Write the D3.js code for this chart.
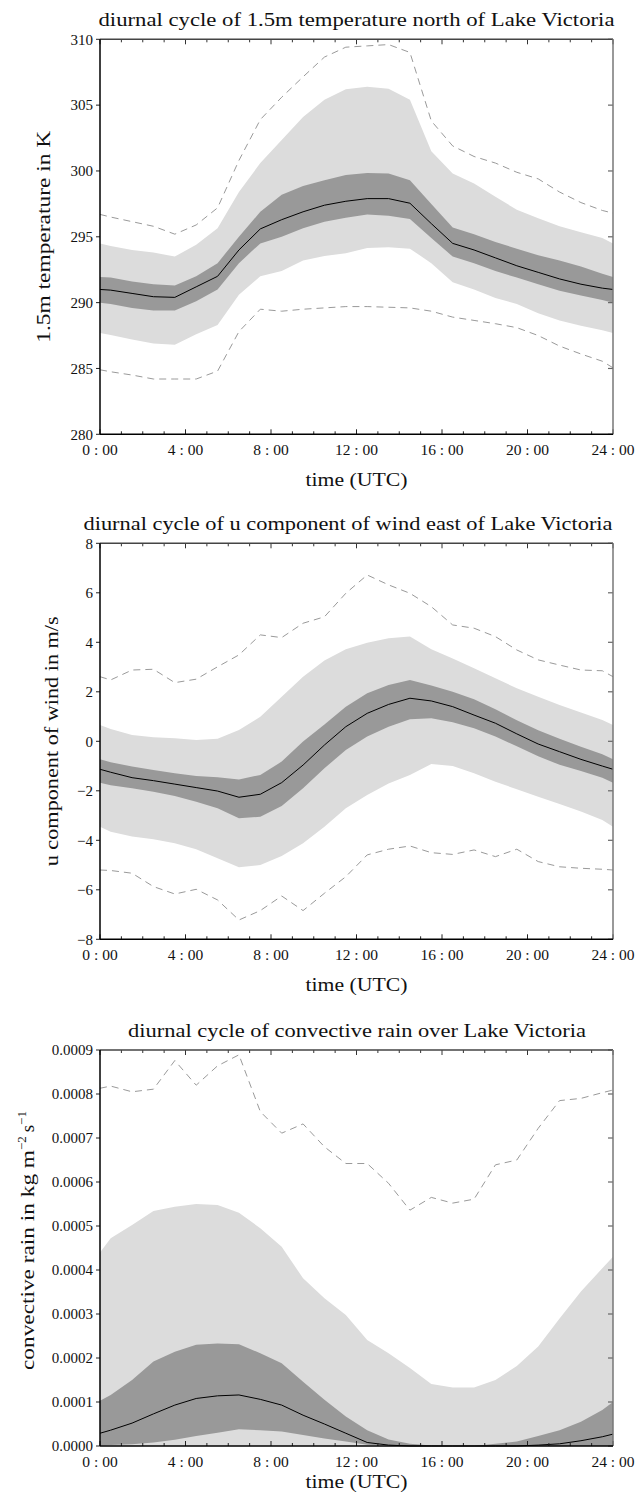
<!DOCTYPE html>
<html><head><meta charset="utf-8">
<script src="https://cdn.jsdelivr.net/npm/d3@7"></script>
<style>
html,body{margin:0;padding:0;background:#fff;}
svg{display:block;}
text{font-family:"Liberation Serif","DejaVu Serif",serif;fill:#111;}
</style></head>
<body><svg id="c" width="638" height="1501"></svg>
<script>
// ---- data ----
const hours = [0,0.5,1.5,2.5,3.5,4.5,5.5,6.5,7.5,8.5,9.5,10.5,11.5,12.5,13.5,14.5,15.5,16.5,17.5,18.5,19.5,20.5,21.5,22.5,23.5,24];
const xTickHours = [0,4,8,12,16,20,24];
const xTickLabels = ["0 : 00","4 : 00","8 : 00","12 : 00","16 : 00","20 : 00","24 : 00"];

// panel 1: 1.5m temperature (K)
const tMin  = [284.9,284.75,284.5,284.2,284.2,284.2,284.8,287.8,289.5,289.35,289.5,289.6,289.7,289.7,289.65,289.6,289.35,288.9,288.65,288.4,288.1,287.5,286.7,286.1,285.55,285.05];
const tP10  = [287.7,287.55,287.2,286.9,286.8,287.6,288.3,290.6,292.0,292.4,293.2,293.55,293.75,294.15,294.2,294.1,293.0,291.55,291.0,290.35,289.9,289.2,288.65,288.25,287.9,287.7];
const tP25  = [290.0,289.9,289.6,289.4,289.4,290.1,291.0,293.0,294.5,295.0,295.65,296.15,296.45,296.7,296.6,296.35,294.9,293.5,293.0,292.4,291.9,291.4,290.9,290.55,290.2,290.0];
const tMed  = [291.0,290.95,290.7,290.45,290.4,291.2,292.0,294.0,295.6,296.3,296.9,297.4,297.7,297.9,297.9,297.55,296.0,294.5,294.0,293.4,292.8,292.3,291.8,291.4,291.1,291.0];
const tP75  = [291.95,291.9,291.6,291.4,291.3,292.0,293.0,295.0,296.9,298.2,298.85,299.3,299.7,299.85,299.8,299.3,297.5,295.7,295.2,294.6,294.1,293.6,293.2,292.75,292.2,291.95];
const tP90  = [294.5,294.3,294.0,293.8,293.5,294.4,295.65,298.4,300.6,302.35,304.1,305.4,306.2,306.4,306.25,305.4,301.5,299.8,299.05,298.05,297.05,296.4,295.8,295.35,294.9,294.5];
const tMax  = [296.7,296.5,296.15,295.8,295.2,295.9,297.2,300.8,303.9,305.6,307.15,308.65,309.4,309.5,309.6,309.0,303.8,301.9,301.1,300.6,299.9,299.4,298.4,297.6,297.0,296.8];
const tTicks = [280,285,290,295,300,305,310];

// panel 2: u component of wind (m/s)
const uMin  = [-5.2,-5.22,-5.33,-5.87,-6.17,-5.98,-6.41,-7.22,-6.84,-6.25,-6.84,-6.14,-5.47,-4.59,-4.36,-4.23,-4.5,-4.57,-4.39,-4.66,-4.36,-4.86,-5.07,-5.13,-5.17,-5.2];
const uP10  = [-3.45,-3.65,-3.85,-3.96,-4.12,-4.36,-4.73,-5.09,-5.0,-4.63,-4.12,-3.45,-2.71,-2.17,-1.7,-1.36,-0.92,-1.0,-1.29,-1.63,-1.94,-2.24,-2.53,-2.84,-3.18,-3.45];
const uP25  = [-1.67,-1.78,-1.9,-2.04,-2.21,-2.44,-2.71,-3.11,-3.05,-2.61,-1.9,-1.09,-0.35,0.19,0.59,0.89,0.93,0.77,0.53,0.19,-0.2,-0.6,-0.95,-1.2,-1.47,-1.67];
const uMed  = [-1.13,-1.25,-1.47,-1.59,-1.73,-1.87,-2.01,-2.26,-2.14,-1.67,-0.96,-0.15,0.59,1.13,1.49,1.74,1.63,1.4,1.06,0.73,0.3,-0.11,-0.42,-0.73,-1.0,-1.13];
const uP75  = [-0.73,-0.85,-1.02,-1.16,-1.29,-1.4,-1.45,-1.54,-1.36,-0.82,-0.01,0.68,1.4,1.94,2.27,2.48,2.25,2.0,1.7,1.3,0.85,0.45,0.1,-0.22,-0.52,-0.73];
const uP90  = [0.66,0.5,0.25,0.16,0.12,0.05,0.1,0.46,0.99,1.8,2.61,3.26,3.72,3.98,4.16,4.23,3.72,3.35,2.95,2.55,2.14,1.8,1.47,1.16,0.86,0.66];
const uMax  = [2.61,2.48,2.88,2.91,2.37,2.51,3.01,3.49,4.3,4.19,4.77,5.03,5.98,6.72,6.32,5.98,5.44,4.7,4.57,4.23,3.69,3.29,3.08,2.88,2.85,2.61];
const uTicks = [-8,-6,-4,-2,0,2,4,6,8];

// panel 3: convective rain (kg m-2 s-1)
const rP10  = [0,0,0,0,0,0,0,0,0,0,0,0,0,0,0,0,0,0,0,0,0,0,0,0,0,0];
const rP25  = [0.000001,0.000002,0.000004,0.000008,0.000014,0.000023,0.00003,0.000038,0.000036,0.000033,0.000025,0.000017,0.00001,0.000003,0.000001,0,0,0,0,0,0,0,0,0,0,0];
const rMed  = [0.000029,0.000036,0.000052,0.000073,0.000093,0.000108,0.000114,0.000116,0.000106,0.000093,0.00007,0.00005,0.000029,0.000008,0.000002,0,0,0,0,0,0,0.000002,0.000005,0.000012,0.000021,0.000027];
const rP75  = [0.000103,0.000116,0.00015,0.000192,0.000214,0.00023,0.000233,0.000231,0.000211,0.000188,0.000146,0.000105,0.000067,0.000036,0.000015,0.000005,0.000001,0,0,0.000005,0.00001,0.000023,0.000036,0.000055,0.000082,0.0001];
const rP90  = [0.00044,0.000472,0.000502,0.000534,0.000544,0.00055,0.000548,0.00053,0.000495,0.000453,0.000381,0.000336,0.000298,0.000241,0.000211,0.000177,0.000141,0.000133,0.000133,0.00015,0.000182,0.000226,0.00029,0.000351,0.000404,0.00043];
const rMax  = [0.000813,0.000818,0.000805,0.000811,0.000876,0.00082,0.000864,0.000889,0.00076,0.000711,0.000732,0.00068,0.000642,0.000642,0.000597,0.000536,0.000565,0.000552,0.000561,0.000639,0.00065,0.000722,0.000785,0.00079,0.000803,0.000809];
const rTicks = [0,0.0001,0.0002,0.0003,0.0004,0.0005,0.0006,0.0007,0.0008,0.0009];

const titles = ["diurnal cycle of 1.5m temperature north of Lake Victoria",
                "diurnal cycle of u component of wind east of Lake Victoria",
                "diurnal cycle of convective rain over Lake Victoria"];
const xLabel = "time (UTC)";

// ---- layout ----
const svg = d3.select("#c");
const X0 = 100, X1 = 613;
const panels = [
  {top:39.3, bottom:434.3, dom:[280,310], ticks:tTicks, fmt:d3.format("d"),
   lo:tMin, p10:tP10, p25:tP25, med:tMed, p75:tP75, p90:tP90, hi:tMax,
   title:titles[0], titleW:516, titleX:356.5, ylab:"1.5m temperature in K", ylabX:43, ylabW:212, xlabY:486},
  {top:543.3, bottom:939.3, dom:[-8,8], ticks:uTicks, fmt:d3.format("d"),
   lo:uMin, p10:uP10, p25:uP25, med:uMed, p75:uP75, p90:uP90, hi:uMax,
   title:titles[1], titleW:529, titleX:348, ylab:"u component of wind in m/s", ylabX:51, ylabW:250, xlabY:990.5},
  {top:1050, bottom:1446, dom:[0,0.0009], ticks:rTicks, fmt:d3.format(".4f"),
   lo:null, p10:rP10, p25:rP25, med:rMed, p75:rP75, p90:rP90, hi:rMax,
   title:titles[2], titleW:458, titleX:357, ylab:null, ylabX:28, ylabW:220, xlabY:1488}
];

const x = d3.scaleLinear().domain([0,24]).range([X0,X1]);

panels.forEach((p,pi)=>{
  const y = d3.scaleLinear().domain(p.dom).range([p.bottom,p.top]);
  const g = svg.append("g");
  const idx = d3.range(hours.length);
  const band = (a,b)=>d3.area().x(i=>x(hours[i])).y0(i=>y(a[i])).y1(i=>y(b[i]));
  const line = (a)=>d3.line().x(i=>x(hours[i])).y(i=>y(a[i]));

  g.append("path").attr("d", band(p.p10,p.p90)(idx)).attr("fill","#dcdcdc");
  g.append("path").attr("d", band(p.p25,p.p75)(idx)).attr("fill","#999999");
  g.append("path").attr("d", line(p.med)(idx)).attr("fill","none").attr("stroke","#000").attr("stroke-width",1);
  if (p.lo) g.append("path").attr("d", line(p.lo)(idx)).attr("fill","none").attr("stroke","#9a9a9a").attr("stroke-width",1).attr("stroke-dasharray","7,5");
  g.append("path").attr("d", line(p.hi)(idx)).attr("fill","none").attr("stroke","#9a9a9a").attr("stroke-width",1).attr("stroke-dasharray","7,5");

  // x ticks (hourly minor, 4-hourly major) on bottom and top, inward
  d3.range(0,25).forEach(h=>{
    const L = (h%4===0)?5:3;
    g.append("line").attr("x1",x(h)).attr("x2",x(h)).attr("y1",p.bottom).attr("y2",p.bottom-L).attr("stroke","#222").attr("stroke-width",1);
    g.append("line").attr("x1",x(h)).attr("x2",x(h)).attr("y1",p.top).attr("y2",p.top+L).attr("stroke","#333").attr("stroke-width",1);
  });
  // y ticks
  p.ticks.forEach(v=>{
    g.append("line").attr("x1",X0-4).attr("x2",X0).attr("y1",y(v)).attr("y2",y(v)).attr("stroke","#222").attr("stroke-width",1);
    g.append("line").attr("x1",X1-5).attr("x2",X1).attr("y1",y(v)).attr("y2",y(v)).attr("stroke","#666").attr("stroke-width",1.2);
    g.append("text").attr("x",X0-7).attr("y",y(v)).attr("dy","0.35em").attr("text-anchor","end")
      .attr("font-size",15).text(p.fmt(v));
  });
  xTickHours.forEach((h,i)=>{
    g.append("text").attr("x",x(h)).attr("y",p.bottom+21).attr("text-anchor","middle")
      .attr("font-size",15.5).text(xTickLabels[i]);
  });
  // frame
  g.append("line").attr("x1",X0).attr("x2",X1).attr("y1",p.top).attr("y2",p.top).attr("stroke","#444").attr("stroke-width",1.5);
  g.append("line").attr("x1",X1).attr("x2",X1).attr("y1",p.top).attr("y2",p.bottom).attr("stroke","#777").attr("stroke-width",1.5);
  g.append("line").attr("x1",X0).attr("x2",X1).attr("y1",p.bottom).attr("y2",p.bottom).attr("stroke","#000").attr("stroke-width",1.5);
  g.append("line").attr("x1",X0).attr("x2",X0).attr("y1",p.top).attr("y2",p.bottom).attr("stroke","#000").attr("stroke-width",1.5);

  // title
  g.append("text").attr("x",p.titleX).attr("y",p.top-13.5).attr("text-anchor","middle")
    .attr("font-size",19).attr("textLength",p.titleW).attr("lengthAdjust","spacingAndGlyphs").text(p.title);
  // x label
  g.append("text").attr("x",356.5).attr("y",p.xlabY).attr("text-anchor","middle")
    .attr("font-size",19).attr("textLength",102).attr("lengthAdjust","spacingAndGlyphs").text(xLabel);
  // y label
  const cy = (p.top+p.bottom)/2;
  if (p.ylab) {
    g.append("text").attr("transform",`translate(${p.ylabX},${cy}) rotate(-90)`)
      .attr("text-anchor","middle").attr("dy","0.35em").attr("font-size",19)
      .attr("textLength",p.ylabW).attr("lengthAdjust","spacingAndGlyphs").text(p.ylab);
  } else {
    const yl = g.append("text").attr("transform",`translate(${p.ylabX + 6},1370) rotate(-90)`)
      .attr("text-anchor","start").attr("font-size",19);
    yl.append("tspan").attr("textLength",p.ylabW).attr("lengthAdjust","spacingAndGlyphs").text("convective rain in kg m");
    yl.append("tspan").attr("font-size",13).attr("dy",-8).text("\u22122");
    yl.append("tspan").attr("dy",8).text("\u2009s");
    yl.append("tspan").attr("font-size",13).attr("dy",-8).text("\u22121");
  }
});
</script></body></html>
